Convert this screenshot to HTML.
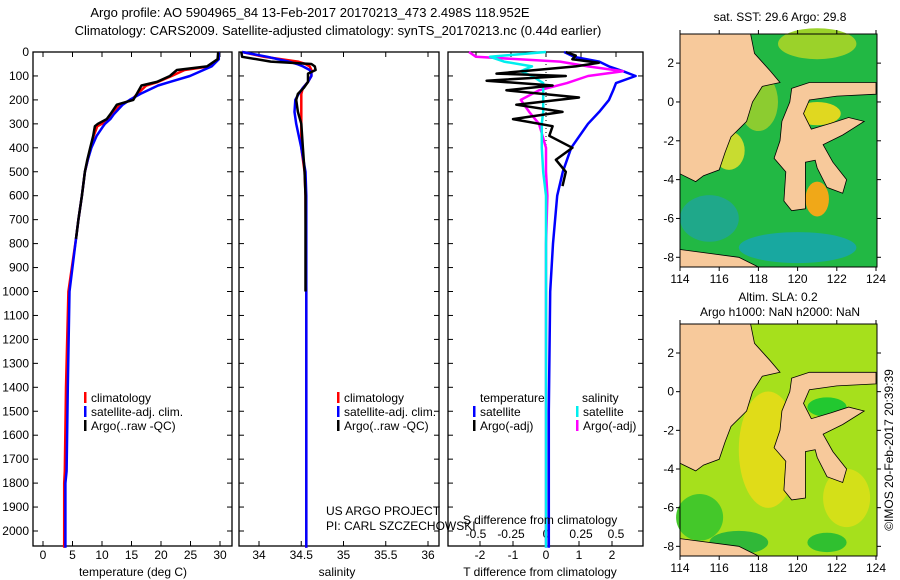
<!DOCTYPE html>
<html><head><meta charset="utf-8"><style>
body{margin:0;background:#fff}
svg{display:block;font-family:"Liberation Sans",sans-serif}
text{font-size:12px;fill:#000}
</style></head><body>
<svg id="c" width="900" height="580" viewBox="0 0 900 580">
<text x="310" y="17" text-anchor="middle" style="font-size:13px">Argo profile: AO 5904965_84 13-Feb-2017 20170213_473 2.498S 118.952E</text>
<text x="338" y="35" text-anchor="middle" style="font-size:13px">Climatology: CARS2009. Satellite-adjusted climatology: synTS_20170213.nc (0.44d earlier)</text>
<g id="g1"></g>
<g id="g2"></g>
<g id="g3"></g>
<g id="m1"></g>
<g id="m2"></g>
<text x="780" y="21" text-anchor="middle">sat. SST: 29.6 Argo: 29.8</text>
<text x="778" y="301" text-anchor="middle">Altim. SLA: 0.2</text>
<text x="780" y="316" text-anchor="middle">Argo h1000: NaN h2000: NaN</text>
<text transform="translate(893,450) rotate(-90)" text-anchor="middle">©IMOS 20-Feb-2017 20:39:39</text>
</svg>
<script>
// ---- data ----
const tDepth=[0,30,60,75,100,125,140,175,200,220,260,280,300,310,350,400,450,500,600,700,780,1000,1400,1750,1800,2070];
const tArgo=[29.7,29.6,27.8,22.7,21.5,19.3,16.7,15.9,15.3,12.5,11.4,10.8,9.3,8.8,8.5,8.0,7.5,7.1,6.6,6.0,5.6,null,null,null,null,null];
const tClim=[29.8,29.7,28.2,24.0,21.8,19.5,17.5,16.0,15.0,13.0,11.8,11.0,10.0,9.2,8.6,8.1,7.6,7.1,6.6,6.0,5.6,4.3,3.9,3.7,3.6,3.6];
const tSat=[29.8,29.8,28.6,27.2,24.9,21.5,19.5,16.5,14.7,13.5,12.0,11.4,10.5,10.2,9.1,8.2,7.6,7.1,6.6,6.0,5.6,4.5,4.2,4.0,3.8,3.8];
const sDepth=[0,20,40,50,60,75,90,100,125,150,175,200,250,300,400,500,600,1000,1500,2070];
const sArgo=[33.79,33.8,34.14,34.62,34.66,34.67,34.58,34.58,34.58,34.53,34.46,34.44,34.46,34.5,34.52,34.54,34.55,34.55,null,null];
const sClim=[33.8,34.06,34.46,34.55,34.6,34.62,34.62,34.62,34.58,34.52,34.5,34.5,34.5,34.5,34.5,34.54,34.55,34.56,34.56,34.56];
const sSat=[33.8,34.1,34.35,34.45,34.52,34.6,34.62,34.62,34.58,34.52,34.47,34.43,34.42,34.44,34.5,34.55,34.56,34.56,34.56,34.56];
const dDepth=[0,15,30,45,60,75,90,100,120,140,160,190,220,250,280,310,350,400,450,500,560];
const dT=[0.6,0.9,0.8,1.6,0.9,-0.3,-1.5,0.6,-1.8,0.2,-1.2,1.0,-0.9,0.5,-1.0,0.2,0.1,0.8,0.3,0.6,0.5];
const ddDepth=[0,20,40,60,80,100,130,160,200,250,300,400,500,600,800,1000,1500,2070];
const dSsat=[0.13,0.2,0.38,0.45,0.55,0.64,0.5,0.48,0.45,0.38,0.3,0.18,0.12,0.08,0.05,0.03,0.02,0.02];
const dSargo=[-0.55,-0.5,0.1,0.3,0.55,0.3,0.15,-0.05,-0.18,-0.12,-0.05,0.0,0.0,0.01,0.0,0.0,0.0,0.0];
const dScyan=[0.0,-0.4,-0.3,-0.1,-0.18,-0.1,-0.02,-0.02,-0.02,-0.02,-0.03,-0.03,-0.02,0.0,0.0,0.0,0.0,0.0];
const depthTicks=[0,100,200,300,400,500,600,700,800,900,1000,1100,1200,1300,1400,1500,1600,1700,1800,1900,2000];
const tTicks=[0,5,10,15,20,25,30];
const sTicks=[34,34.5,35,35.5,36];
const dTTicks=[-2,-1,0,1,2];
const dSTicks=[-0.5,-0.25,0,0.25,0.5];
const lonTicks=[114,116,118,120,122,124];
const latTicks=[2,0,-2,-4,-6,-8];
// ---- helpers ----
const NS='http://www.w3.org/2000/svg';
function mk(p,t,a){const e=document.createElementNS(NS,t);for(const k in a)e.setAttribute(k,a[k]);p.appendChild(e);return e;}
const Y=d=>52+d*0.2395;
function frame(g,x0,x1){const r=mk(g,'rect',{x:x0,y:52,width:x1-x0,height:494,fill:'none',stroke:'#000','stroke-width':1.3});

}
function line(g,depth,vals,X,col,name,w){let d='';let pen=false;
depth.forEach((z,i)=>{const v=vals[i];if(v==null){pen=false;return;}d+=(pen?'L':'M')+X(v).toFixed(1)+','+Y(z).toFixed(1);pen=true;});
const p=mk(g,'path',{d:d,fill:'none',stroke:col,'stroke-width':w||2.5,'stroke-linejoin':'round'});

}
function xtick(g,x,lab,yb,top){mk(g,'line',{x1:x,x2:x,y1:546,y2:541,stroke:'#000'});if(top!==false)mk(g,'line',{x1:x,x2:x,y1:52,y2:57,stroke:'#000'});
const t=mk(g,'text',{x:x,y:yb,'text-anchor':'middle'});t.textContent=lab;

}
function legend(g,x,y,items){items.forEach((it,i)=>{mk(g,'rect',{x:x,y:y+i*14-10,width:2.5,height:11,fill:it[1]});
const t=mk(g,'text',{x:x+7,y:y+i*14});t.textContent=it[0];

});}
// ---- panel 1 ----
const g1=document.getElementById('g1');
const XT=v=>43+v*5.9;
frame(g1,33,232);
depthTicks.forEach(d=>{mk(g1,'line',{x1:33,x2:38,y1:Y(d),y2:Y(d),stroke:'#000'});mk(g1,'line',{x1:227,x2:232,y1:Y(d),y2:Y(d),stroke:'#000'});
const t=mk(g1,'text',{x:29,y:Y(d)+4,'text-anchor':'end'});t.textContent=d;

});
tTicks.forEach(v=>xtick(g1,XT(v),v,559));
line(g1,tDepth,tClim,XT,'#f00','temperature-climatology');
line(g1,tDepth,tSat,XT,'#00f','temperature-satellite-adj');
line(g1,tDepth,tArgo,XT,'#000','temperature-argo');
legend(g1,84,402,[['climatology','#f00'],['satellite-adj. clim.','#00f'],['Argo(..raw -QC)','#000']]);
let tt=mk(g1,'text',{x:133,y:576,'text-anchor':'middle'});tt.textContent='temperature (deg C)';


// ---- panel 2 ----
const g2=document.getElementById('g2');
const XS=v=>259+(v-34)*84.5;
frame(g2,239,439);
depthTicks.forEach(d=>{mk(g2,'line',{x1:239,x2:244,y1:Y(d),y2:Y(d),stroke:'#000'});mk(g2,'line',{x1:434,x2:439,y1:Y(d),y2:Y(d),stroke:'#000'});});
sTicks.forEach(v=>xtick(g2,XS(v),v,559));
line(g2,sDepth,sClim,XS,'#f00','salinity-climatology');
line(g2,sDepth,sSat,XS,'#00f','salinity-satellite-adj');
line(g2,sDepth,sArgo,XS,'#000','salinity-argo');
legend(g2,337,402,[['climatology','#f00'],['satellite-adj. clim.','#00f'],['Argo(..raw -QC)','#000']]);
tt=mk(g2,'text',{x:337,y:576,'text-anchor':'middle'});tt.textContent='salinity';


tt=mk(g2,'text',{x:326,y:515});tt.textContent='US ARGO PROJECT';


tt=mk(g2,'text',{x:326,y:530});tt.textContent='PI: CARL SZCZECHOWSKI';


// ---- panel 3 ----
const g3=document.getElementById('g3');
const XD=v=>546+v*33;
const XDS=v=>546+v*140;
frame(g3,448,643);
depthTicks.forEach(d=>{mk(g3,'line',{x1:448,x2:453,y1:Y(d),y2:Y(d),stroke:'#000'});mk(g3,'line',{x1:638,x2:643,y1:Y(d),y2:Y(d),stroke:'#000'});});
dTTicks.forEach(v=>xtick(g3,XD(v),v,559,false));
dSTicks.forEach(v=>{mk(g3,'line',{x1:XDS(v),x2:XDS(v),y1:52,y2:57,stroke:'#000'});const t=mk(g3,'text',{x:XDS(v),y:538,'text-anchor':'middle'});t.textContent=v;

});
mk(g3,'line',{x1:546,x2:546,y1:52,y2:546,stroke:'#000','stroke-dasharray':'1,3'});
line(g3,ddDepth,dSsat,XDS,'#00f','salinity-diff-satellite');
line(g3,ddDepth,dSargo,XDS,'#f0f','salinity-diff-argo');
line(g3,ddDepth,dScyan,XDS,'#0ee','temperature-diff-satellite');
line(g3,dDepth,dT,XD,'#000','temperature-diff-argo');
legend(g3,473,416,[['satellite','#00f'],['Argo(-adj)','#000']]);
legend(g3,576,416,[['satellite','#0ee'],['Argo(-adj)','#f0f']]);
tt=mk(g3,'text',{x:480,y:402});tt.textContent='temperature';

tt=mk(g3,'text',{x:582,y:402});tt.textContent='salinity';

tt=mk(g3,'text',{x:540,y:524,'text-anchor':'middle'});tt.textContent='S difference from climatology';

tt=mk(g3,'text',{x:540,y:576,'text-anchor':'middle'});tt.textContent='T difference from climatology';

// ---- maps ----
const borneo=[[114,3.5],[117.6,3.5],[117.8,2.5],[118.6,1.6],[119.1,1.0],[118.2,0.8],[117.7,0],[117.4,-1],[116.6,-1.8],[116.3,-2.6],[116,-3.5],[115.2,-3.8],[114.8,-4.1],[114,-3.7]];
const sulawesi=[[119.7,0.7],[120.6,1.0],[124,1.0],[124,0.4],[122,0.3],[120.6,0.1],[120.3,-0.6],[120.7,-1.4],[121.7,-1.1],[122.6,-0.8],[123.4,-1.0],[122.3,-1.7],[121.3,-2.2],[121.8,-3.1],[122.5,-4.0],[122.3,-4.7],[121.5,-4.4],[121,-3.4],[120.9,-3.0],[120.4,-3.1],[120.4,-5.5],[119.7,-5.6],[119.3,-5.1],[119.4,-3.6],[118.8,-2.9],[119.1,-2.0],[119.2,-1.0],[119.6,0]];
function map(id,top,bot,bg,patches){const g=document.getElementById(id);
const MX=l=>680+(l-114)*19.6;const MY=la=>top+(3.5-la)*((bot-top)/12);
mk(g,'rect',{x:680,y:top,width:197,height:bot-top,fill:bg});
patches.forEach(p=>{const e=mk(g,'ellipse',{cx:MX(p[0]),cy:MY(p[1]),rx:p[2]*19.6,ry:p[3]*19.4,fill:p[4]});
});
[borneo,sulawesi,[[114,-7.6],[117,-8.0],[118,-8.5],[114,-8.5]]].forEach(poly=>{const e=mk(g,'polygon',{points:poly.map(q=>MX(q[0]).toFixed(1)+','+MY(q[1]).toFixed(1)).join(' '),fill:'#f7c99b',stroke:'#000','stroke-width':0.8});
});
const f=mk(g,'rect',{x:680,y:top,width:197,height:bot-top,fill:'none',stroke:'#000'});

lonTicks.forEach(l=>{mk(g,'line',{x1:MX(l),x2:MX(l),y1:bot,y2:bot+4,stroke:'#000'});mk(g,'line',{x1:MX(l),x2:MX(l),y1:top,y2:top-4,stroke:'#000'});
const t=mk(g,'text',{x:MX(l),y:bot+16,'text-anchor':'middle'});t.textContent=l;
});
latTicks.forEach(la=>{mk(g,'line',{x1:676,x2:680,y1:MY(la),y2:MY(la),stroke:'#000'});mk(g,'line',{x1:877,x2:881,y1:MY(la),y2:MY(la),stroke:'#000'});
const t=mk(g,'text',{x:674,y:MY(la)+4,'text-anchor':'end'});t.textContent=la;
});}
map('m1',34,267,'#22b844',[[121,3,2,0.8,'#9bd22a'],[118,0,1,1.5,'#8ccc30'],[121,-0.6,1.2,0.6,'#e0d820'],[121,-5,0.6,0.9,'#f0a818'],[115.5,-6,1.5,1.2,'#1fa88a'],[120,-7.5,3,0.8,'#18a8a0'],[116.5,-2.5,0.8,1,'#c8dc30']]);
map('m2',324,556,'#a6e01c',[[118.5,-3,1.5,3,'#e0dc18'],[121.5,-0.8,1,0.5,'#22c830'],[115,-6.5,1.2,1.2,'#44c82a'],[117,-7.8,1.5,0.6,'#30b838'],[121.5,-7.8,1,0.5,'#30c030'],[122.5,-5.5,1.2,1.5,'#d4e018']]);
</script>
</body></html>
